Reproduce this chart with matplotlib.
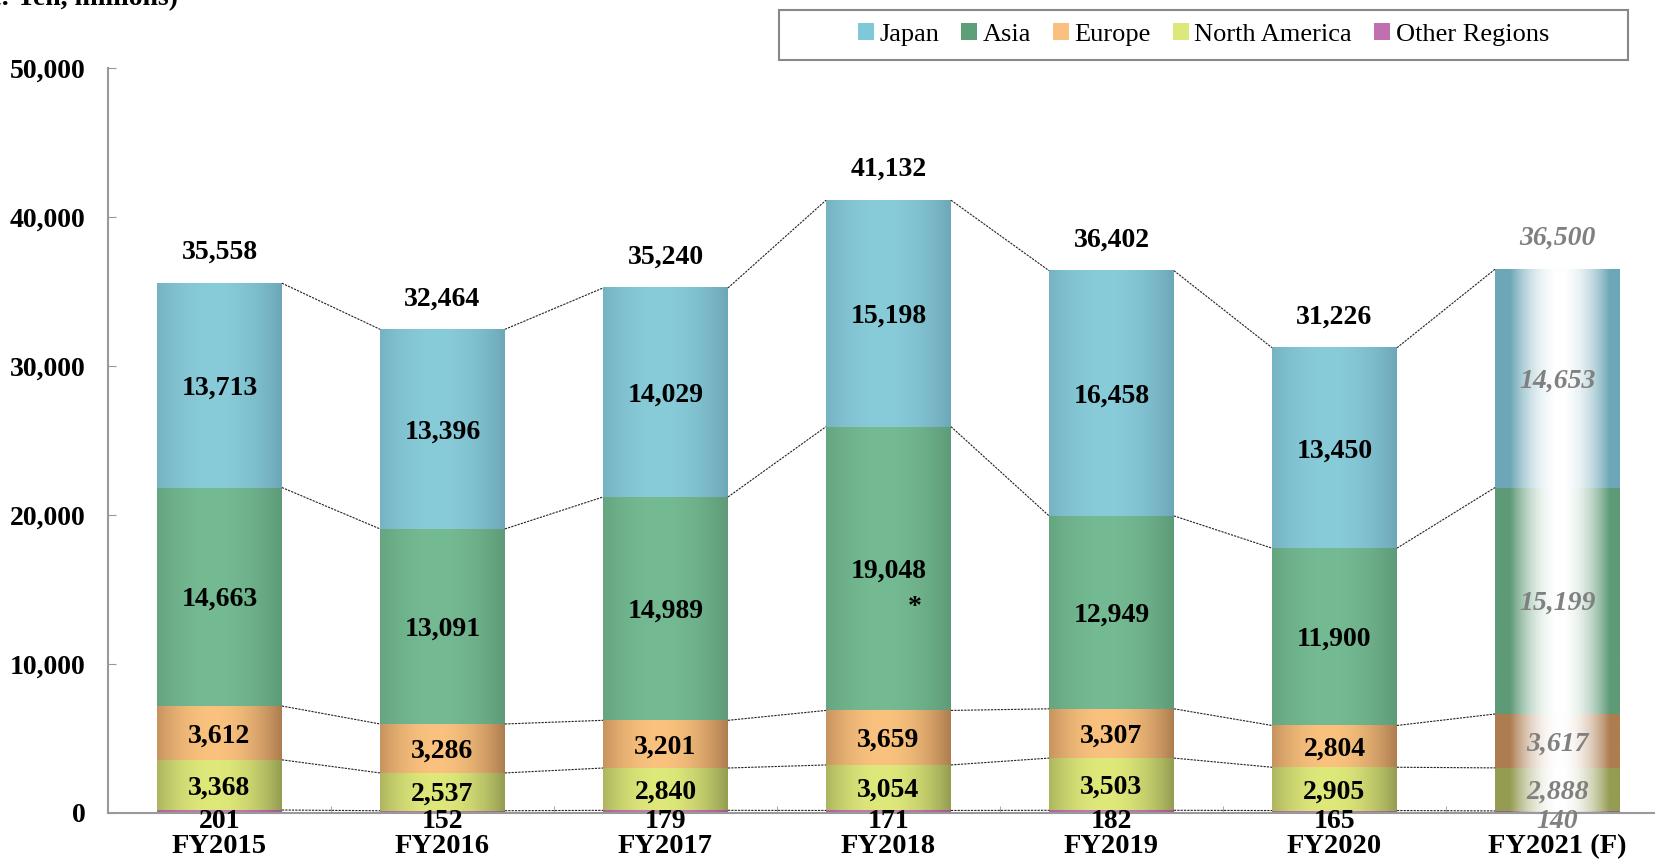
import matplotlib
matplotlib.use('Agg')
import matplotlib.pyplot as plt
import numpy as np
from matplotlib.patches import Patch, Rectangle

years = ['FY2015', 'FY2016', 'FY2017', 'FY2018', 'FY2019', 'FY2020', 'FY2021 (F)']
japan = [13713, 13396, 14029, 15198, 16458, 13450, 14653]
asia = [14663, 13091, 14989, 19048, 12949, 11900, 15199]
europe = [3612, 3286, 3201, 3659, 3307, 2804, 3617]
north_america = [3368, 2537, 2840, 3054, 3503, 2905, 2888]
other = [201, 152, 179, 171, 182, 165, 140]
totals = [35558, 32464, 35240, 41132, 36402, 31226, 36500]

# orden de abajo hacia arriba
series = [other, north_america, europe, asia, japan]
nombres = ['Other Regions', 'North America', 'Europe', 'Asia', 'Japan']
bordes = ['#9a5a8c', '#949c52', '#ad7d50', '#5e9a77', '#6da7b7']
centros = ['#c678b6', '#dfe97a', '#fac27e', '#74ba92', '#88cbd9']
leyenda = ['#c070b0', '#dde87a', '#f9c07f', '#5f9f78', '#7fc8d8']

plt.rcParams['font.family'] = ['Liberation Serif', 'DejaVu Serif']

fig = plt.figure(figsize=(16.56, 8.59), dpi=100)
ax = fig.add_axes([108/1656, 46/859, 1561/1656, 745/859])

x = np.arange(len(years))
ancho = 0.56
tam = 20


def hex2rgb(c):
    return np.array(matplotlib.colors.to_rgb(c))


def gradiente(borde, centro, blanco=False):
    t = np.linspace(0, 1, 200)
    b = hex2rgb(borde)
    if blanco:
        c = np.array([1.0, 1.0, 1.0])
        w = 1 - ((t - 0.52) / 0.4) ** 2
    else:
        c = hex2rgb(centro)
        w = 1 - ((t - 0.45) / 0.55) ** 2
    w = np.clip(w, 0, 1)
    img = b[None, :] * (1 - w[:, None]) + c[None, :] * w[:, None]
    return img[None, :, :]


base = np.zeros(len(years))
niveles = []
for s, (vals, borde, centro) in enumerate(zip(series, bordes, centros)):
    vals = np.array(vals, dtype=float)
    barras = ax.bar(x, vals, ancho, bottom=base, color=centro, linewidth=0, zorder=1)
    for i, p in enumerate(barras.patches):
        x0 = p.get_x()
        y0 = p.get_y()
        img = gradiente(borde, centro, blanco=(i == len(years) - 1))
        ax.imshow(img, extent=[x0, x0 + p.get_width(), y0, y0 + p.get_height()],
                  aspect='auto', interpolation='bilinear', zorder=2)
    base = base + vals
    niveles.append(base.copy())

# lineas punteadas entre barras
for nivel in niveles:
    for i in range(len(years) - 1):
        ax.plot([x[i] + ancho/2, x[i+1] - ancho/2], [nivel[i], nivel[i+1]],
                linestyle=(0, (2, 1)), color='#222222', linewidth=0.8, zorder=3)

# etiquetas de valores
base = np.zeros(len(years))
for s, vals in enumerate(series):
    for i, v in enumerate(vals):
        if i == len(years) - 1:
            col, est = '#808080', 'italic'
        else:
            col, est = 'black', 'normal'
        if s == 0:
            ax.annotate(f'{v:,}', xy=(x[i], 0), xytext=(0, -6), textcoords='offset points',
                        ha='center', va='center', fontsize=tam, fontweight='bold',
                        color=col, style=est, zorder=5, annotation_clip=False)
        else:
            ax.annotate(f'{v:,}', xy=(x[i], base[i] + v/2), xytext=(0, -2), textcoords='offset points',
                        ha='center', va='center', fontsize=tam, fontweight='bold',
                        color=col, style=est, zorder=5)
    base = base + np.array(vals)

for i, t in enumerate(totals):
    if i == len(years) - 1:
        col, est = '#808080', 'italic'
    else:
        col, est = 'black', 'normal'
    ax.annotate(f'{t:,}', xy=(x[i], base[i]), xytext=(0, 22), textcoords='offset points',
                ha='center', va='center', fontsize=tam, fontweight='bold', color=col, style=est)

ax.text(3.118, 13800, '*', ha='center', va='center', fontsize=tam, fontweight='bold', zorder=5)

ax.set_xlim(-0.5, 6.5)
ax.set_ylim(0, 50000)
ax.set_yticks(np.arange(0, 50001, 10000))
ax.set_yticklabels([f'{v:,}' for v in range(0, 50001, 10000)], fontsize=tam, fontweight='bold')
ax.set_xticks(x)
ax.set_xticklabels(years, fontsize=20.5, fontweight='bold')
ax.set_xticks(np.arange(0.5, 6.5, 1), minor=True)
ax.tick_params(axis='x', which='major', length=0, pad=15)
ax.tick_params(axis='x', which='minor', direction='in', length=5, color='#999999')
ax.tick_params(axis='y', direction='in', length=6, color='#999999', pad=16)
for lado in ['top', 'right']:
    ax.spines[lado].set_visible(False)
for lado in ['left', 'bottom']:
    ax.spines[lado].set_color('#999999')
    ax.spines[lado].set_linewidth(1.5)

fig.text(178/1656, 1 - 5/859, '(Unit: Yen, millions)', ha='right', va='baseline',
         fontsize=tam, fontweight='bold')

# leyenda
caja = Rectangle((779/1656, 1 - 60/859), 849/1656, 50.5/859, transform=fig.transFigure,
                 fill=False, edgecolor='#888888', linewidth=1.5)
fig.patches.append(caja)
orden = [4, 3, 2, 1, 0]
handles = [Patch(facecolor=leyenda[k], edgecolor='none', label=nombres[k]) for k in orden]
fig.legend(handles=handles, loc='center', bbox_to_anchor=(1203.5/1656, 1 - 34.75/859),
           ncol=5, frameon=False, fontsize=19, handlelength=0.6, handleheight=0.6,
           handletextpad=0.2, columnspacing=0.85)

fig.savefig('out.png', dpi=100)
